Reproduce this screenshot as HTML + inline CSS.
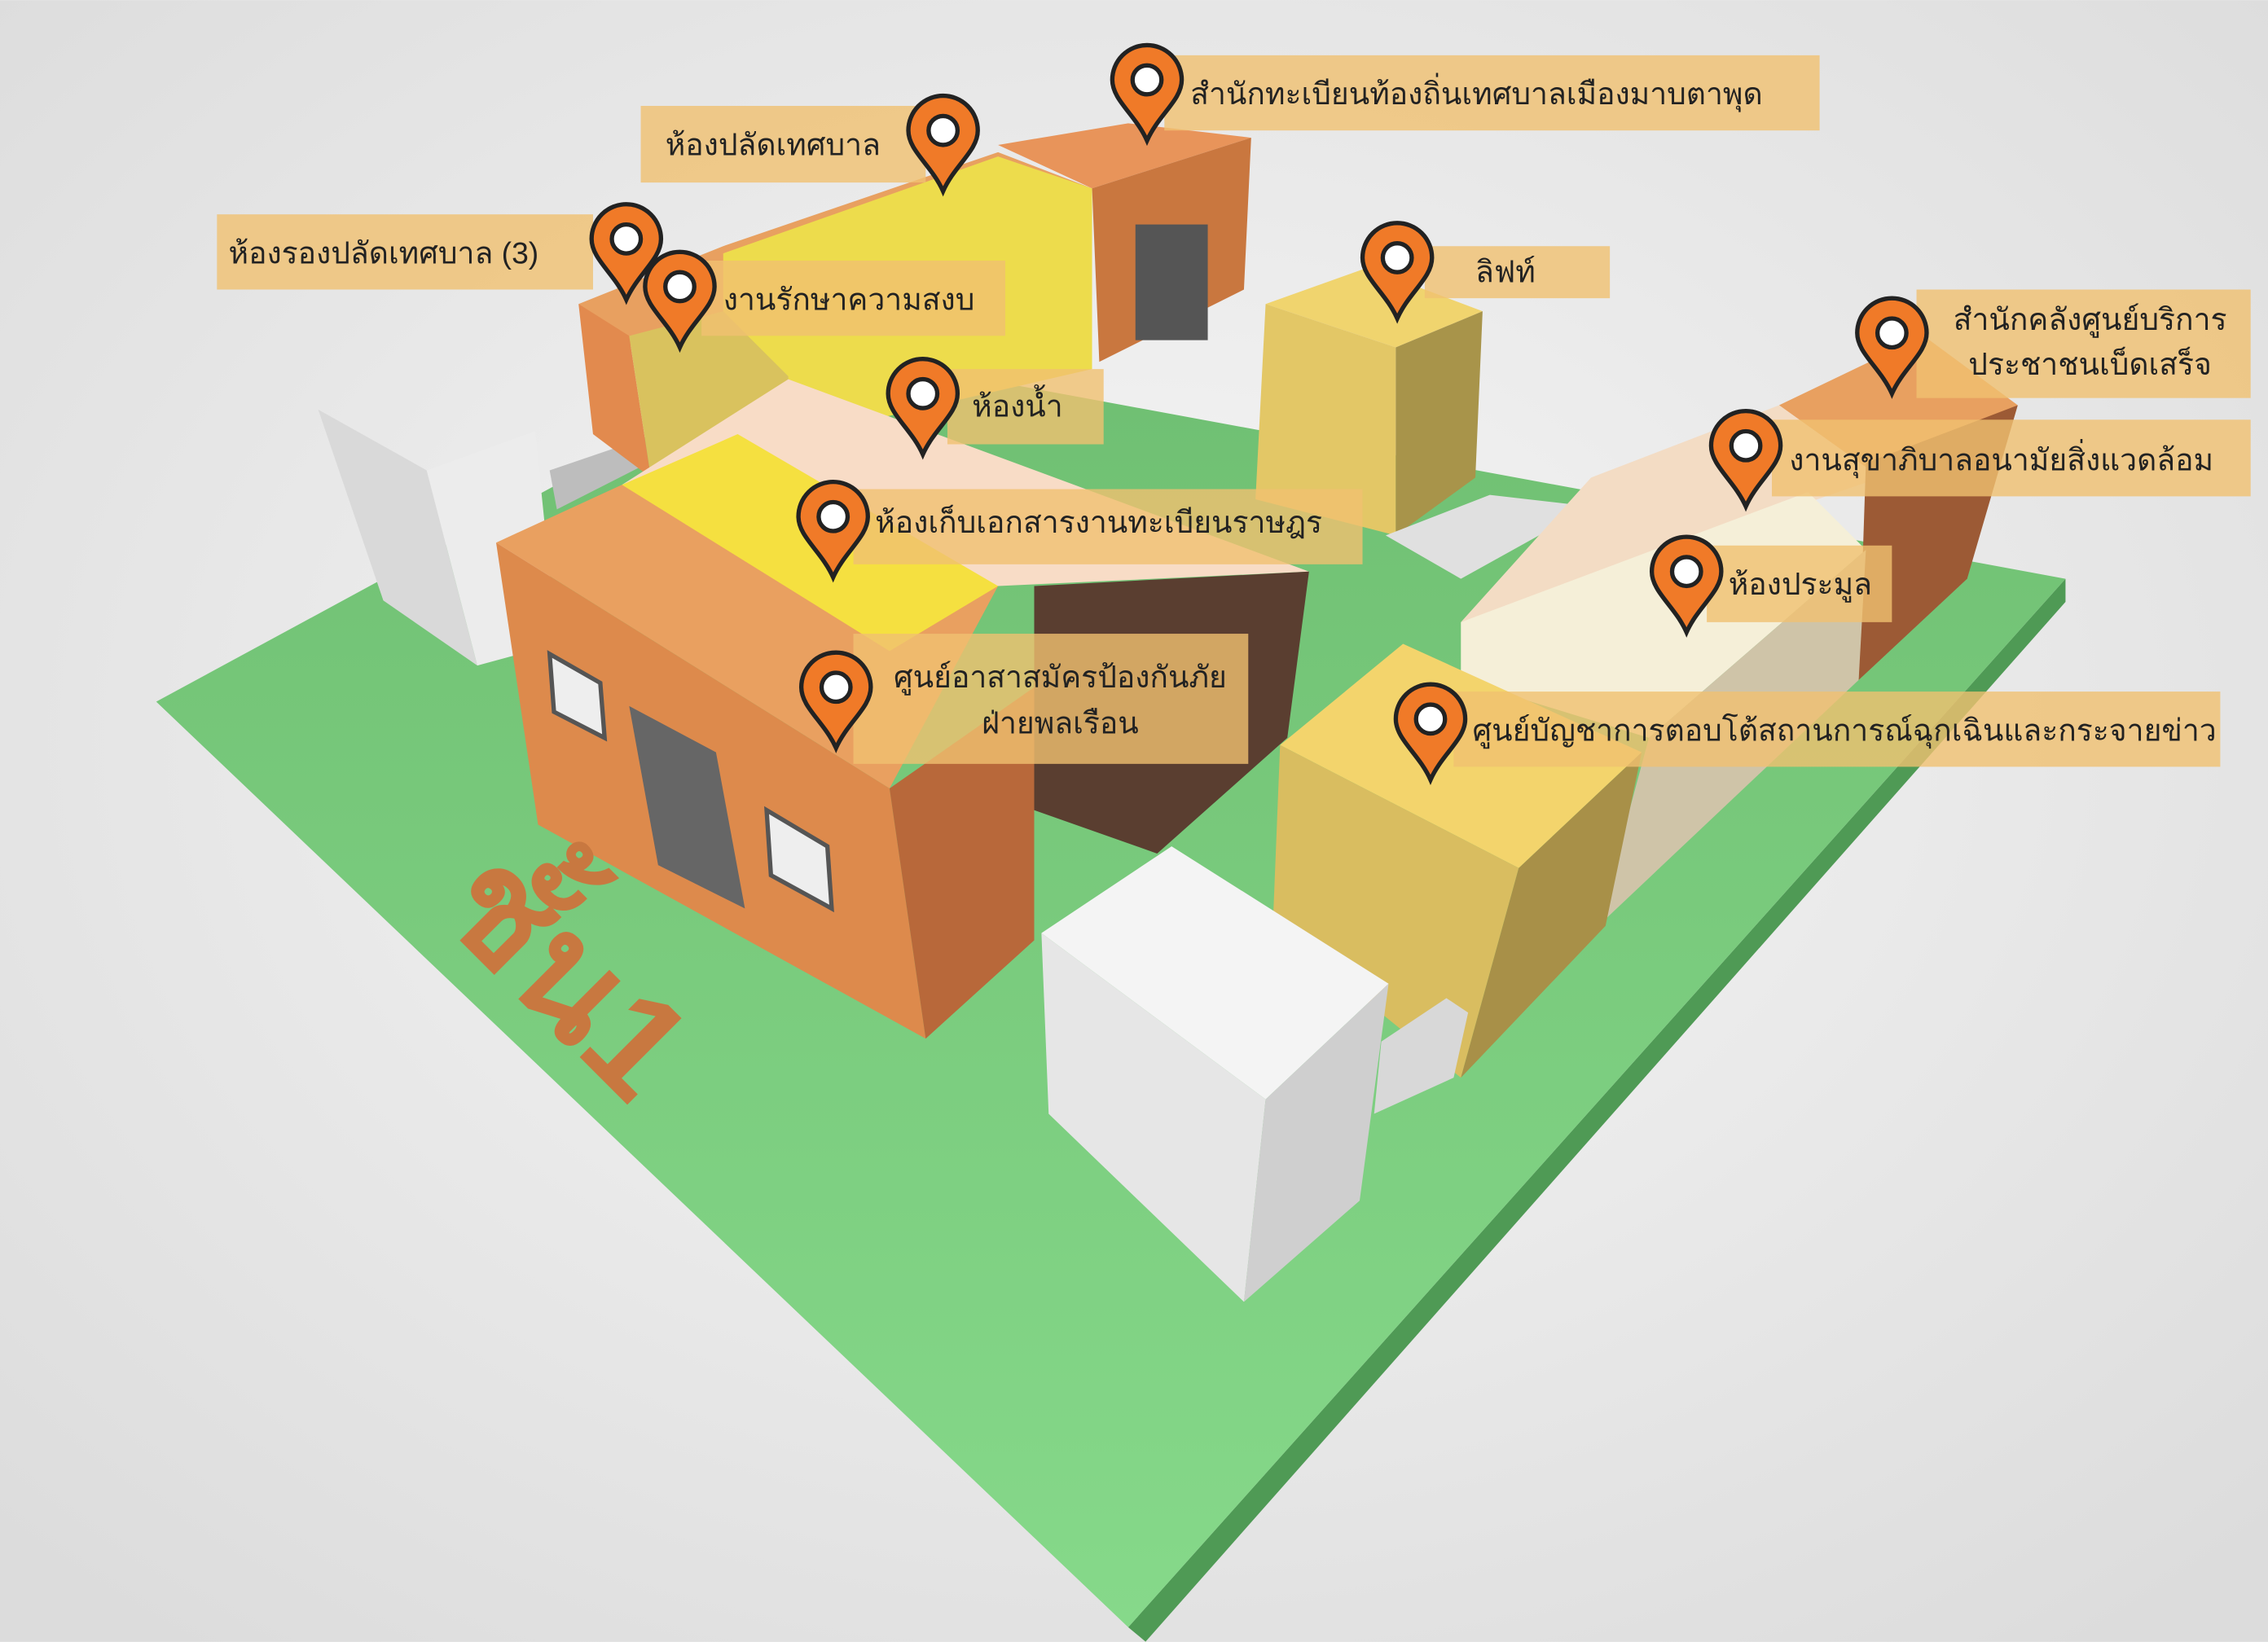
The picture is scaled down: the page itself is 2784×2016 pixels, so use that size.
<!DOCTYPE html>
<html><head><meta charset="utf-8"><style>
html,body{margin:0;padding:0;width:2784px;height:2016px;overflow:hidden;background:#e9e9e9}
svg{display:block}
text{font-family:"Liberation Sans","Noto Sans CJK SC",sans-serif;font-size:21px;fill:#222}
</style></head><body>
<svg width="2784" height="2016" viewBox="0 0 1568 1135" xmlns="http://www.w3.org/2000/svg">
<defs>
<radialGradient id="bg" cx="0.5" cy="0.45" r="0.7"><stop offset="0" stop-color="#f7f7f7"/><stop offset="1" stop-color="#dcdcdc"/></radialGradient>
<linearGradient id="gr" x1="0" y1="0" x2="0" y2="1"><stop offset="0" stop-color="#6fbf72"/><stop offset="1" stop-color="#86d98a"/></linearGradient>
<g id="pin"><path d="M0 0 C-8 -18 -24 -28 -24 -42 A24 24 0 1 1 24 -42 C24 -28 8 -18 0 0Z" fill="#f07a28" stroke="#222" stroke-width="3"/><circle cx="0" cy="-42" r="10" fill="#fff" stroke="#222" stroke-width="3"/></g>
</defs>
<rect width="1568" height="1135" fill="url(#bg)"/>
<polygon points="780,1125 1428,400 1428,416 792,1135" fill="#4f9a55"/>
<polygon points="108,485 560,240 1428,400 780,1125" fill="url(#gr)"/>
<polygon points="220,283 295,325 330,460 265,415" fill="#d9d9d9"/>
<polygon points="295,325 370,298 385,445 330,460" fill="#ececec"/>
<polygon points="380,325 430,308 448,320 385,352" fill="#bdbdbd"/>
<polygon points="400,210 500,170 690,105 755,130 560,210 450,250" fill="#e8a060"/>
<polygon points="690,100 780,85 865,95 755,130" fill="#e8945a"/>
<polygon points="755,130 865,95 860,200 760,250" fill="#c9773f"/>
<polygon points="500,175 690,108 755,130 755,255 560,300 500,260" fill="#eddc4c"/>
<polygon points="400,210 435,232 450,330 410,300" fill="#e28a4e"/>
<polygon points="435,232 500,215 545,260 545,310 450,330" fill="#d9c25e"/>
<rect x="785" y="155" width="50" height="80" fill="#555"/>
<polygon points="875,210 945,185 1025,215 965,240" fill="#f0d46e"/>
<polygon points="875,210 965,240 965,370 868,345" fill="#e3c766"/>
<polygon points="965,240 1025,215 1020,330 965,370" fill="#a8944a"/>
<polygon points="958,370 1030,342 1100,350 1010,400" fill="#e0e0e0"/>
<polygon points="1230,280 1330,232 1395,280 1300,330" fill="#e8a060"/>
<polygon points="1100,330 1230,280 1300,330 1010,430" fill="#f3dcc4"/>
<polygon points="1010,430 1250,340 1290,380 1140,510 1010,470" fill="#f5efd8"/>
<polygon points="1290,320 1395,280 1360,400 1285,470" fill="#9c5a35"/>
<polygon points="1140,510 1290,380 1285,470 1105,640" fill="#cfc4a8"/>
<polygon points="430,335 545,262 905,395 690,405" fill="#f8dcc6"/>
<polygon points="715,405 905,395 890,510 800,590 715,560" fill="#5a3e30"/>
<polygon points="343,375 430,335 690,405 615,545" fill="#e9a060"/>
<polygon points="430,335 510,300 690,405 615,450" fill="#f5e040"/>
<polygon points="343,375 615,545 640,718 372,570" fill="#dd8a4c"/>
<polygon points="615,545 715,475 715,650 640,718" fill="#b8683a"/>
<polygon points="435,488 495,520 515,628 455,598" fill="#666"/>
<polygon points="380,452 415,472 418,510 383,492" fill="#eee" stroke="#555" stroke-width="3"/>
<polygon points="530,560 572,585 575,628 533,605" fill="#eee" stroke="#555" stroke-width="3"/>
<polygon points="885,515 970,445 1135,520 1050,600" fill="#f3d46c"/>
<polygon points="885,515 1050,600 1010,745 880,640" fill="#d9bd60"/>
<polygon points="1050,600 1135,520 1110,640 1010,745" fill="#a89048"/>
<polygon points="720,645 810,585 960,680 875,760" fill="#f4f4f4"/>
<polygon points="720,645 875,760 860,900 725,770" fill="#e6e6e6"/>
<polygon points="875,760 960,680 940,830 860,900" fill="#cfcfcf"/>
<polygon points="955,720 1000,690 1015,700 1005,745 950,770" fill="#d8d8d8"/>
<text x="0" y="0" transform="translate(300,630) rotate(45)" style="font-size:100px;fill:#c87840;font-weight:bold">ชั้น1</text>
<g fill="#f0c070" fill-opacity="0.8">
<rect x="805" y="38" width="453" height="52"/>
<rect x="443" y="73" width="197" height="53"/>
<rect x="150" y="148" width="260" height="52"/>
<rect x="485" y="180" width="210" height="52"/>
<rect x="655" y="255" width="108" height="52"/>
<rect x="590" y="338" width="352" height="52"/>
<rect x="590" y="438" width="273" height="90"/>
<rect x="985" y="170" width="128" height="36"/>
<rect x="1325" y="200" width="231" height="75"/>
<rect x="1225" y="290" width="331" height="53"/>
<rect x="1180" y="377" width="128" height="53"/>
<rect x="1005" y="478" width="530" height="52"/>
</g>
<text x="823" y="72">สำนักทะเบียนท้องถิ่นเทศบาลเมืองมาบตาพุด</text>
<text x="460" y="107">ห้องปลัดเทศบาล</text>
<text x="158" y="182">ห้องรองปลัดเทศบาล (3)</text>
<text x="500" y="214">งานรักษาความสงบ</text>
<text x="672" y="288">ห้องน้ำ</text>
<text x="605" y="368">ห้องเก็บเอกสารงานทะเบียนราษฎร</text>
<text x="733" y="475" text-anchor="middle">ศูนย์อาสาสมัครป้องกันภัย</text>
<text x="733" y="507" text-anchor="middle">ฝ่ายพลเรือน</text>
<text x="1020" y="195">ลิฟท์</text>
<text x="1445" y="228" text-anchor="middle">สำนักคลังศูนย์บริการ</text>
<text x="1445" y="259" text-anchor="middle">ประชาชนเบ็ดเสร็จ</text>
<text x="1237" y="325">งานสุขาภิบาลอนามัยสิ่งแวดล้อม</text>
<text x="1195" y="411">ห้องประมูล</text>
<text x="1018" y="512">ศูนย์บัญชาการตอบโต้สถานการณ์ฉุกเฉินและกระจายข่าว</text>
<use href="#pin" x="793" y="97"/>
<use href="#pin" x="652" y="132"/>
<use href="#pin" x="433" y="207"/>
<use href="#pin" x="470" y="240"/>
<use href="#pin" x="638" y="314"/>
<use href="#pin" x="576" y="399"/>
<use href="#pin" x="578" y="517"/>
<use href="#pin" x="966" y="220"/>
<use href="#pin" x="1308" y="272"/>
<use href="#pin" x="1207" y="350"/>
<use href="#pin" x="1166" y="437"/>
<use href="#pin" x="989" y="539"/>
</svg>
</body></html>
